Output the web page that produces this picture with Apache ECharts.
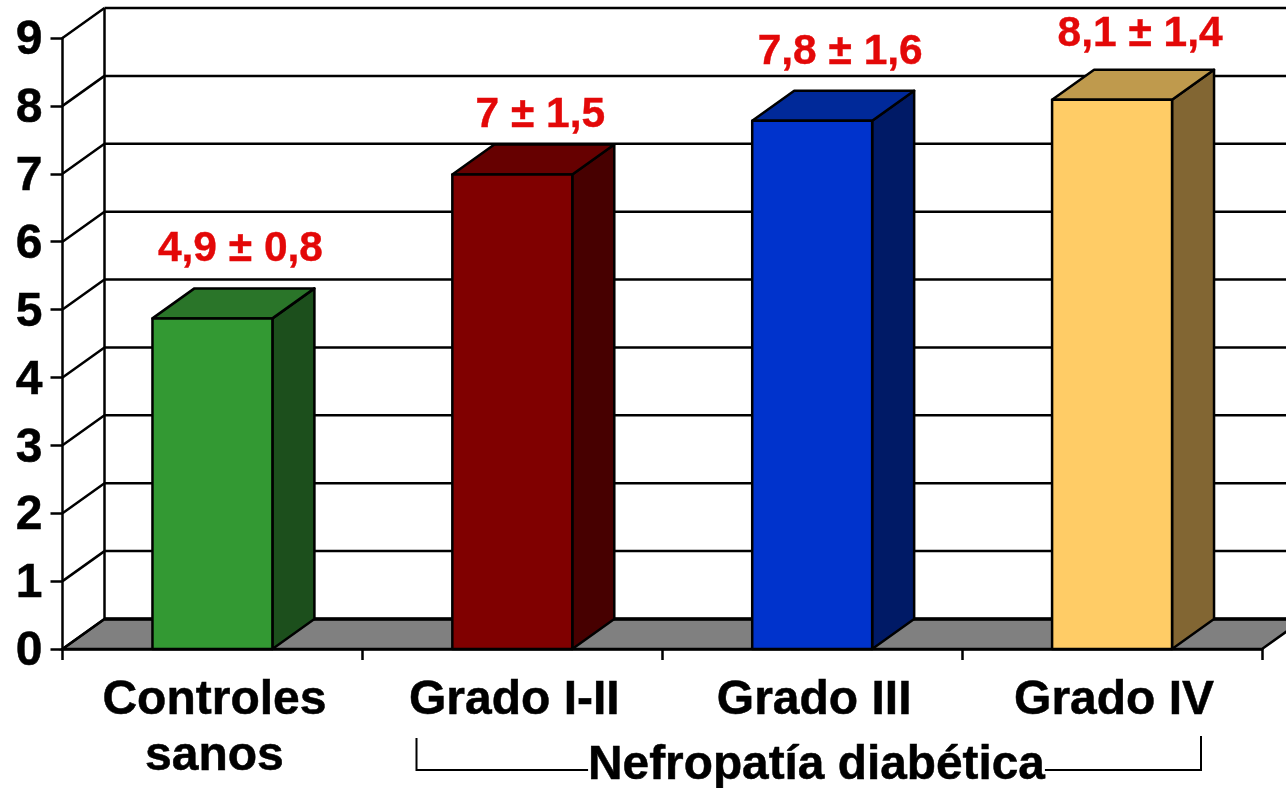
<!DOCTYPE html>
<html>
<head>
<meta charset="utf-8">
<title>Nefropatía diabética</title>
<style>
  html, body { margin: 0; padding: 0; background: #fff; }
  #chart { width: 1286px; height: 788px; }
</style>
<script src="https://cdn.jsdelivr.net/npm/echarts@6/dist/echarts.min.js"></script>
</head>
<body>
<div id="chart"></div>
<script>
const categories = ["Controles\nsanos", "Grado I-II", "Grado III", "Grado IV"];
const values = [4.87, 6.99, 7.78, 8.09];
const barLabels = ["4,9 ± 0,8", "7 ± 1,5", "7,8 ± 1,6", "8,1 ± 1,4"];
const yTicks = [0, 1, 2, 3, 4, 5, 6, 7, 8, 9];
const groupLabel = "Nefropatía diabética";

// colores de cada barra: frente, tapa, lateral
const faceColors = ["#339933", "#800000", "#0033CC", "#FFCC66"];
const topColors = ["#2A7529", "#660000", "#002999", "#BF9A4D"];
const sideColors = ["#1C4F1C", "#470000", "#001A66", "#826633"];

const depthX = 42;
const depthY = 30;
const labelLift = [39, 29, 39, 35]; // separacion de cada rotulo sobre su barra
const fontFamily = "'Liberation Sans', Arial, sans-serif";
const lineW = 2.5;
const lineStyle = { stroke: "#000", lineWidth: lineW, fill: null };

function renderWall(params, api) {
  const rect = params.coordSys;
  const v = api.value(1);
  const y = api.coord([0, v])[1];
  const left = rect.x;
  const right = rect.x + rect.width;
  const children = [];
  if (v === 0) {
    children.push({
      type: "polygon",
      shape: { points: [[left, y], [left + depthX, y - depthY], [right + depthX, y - depthY], [right, y]] },
      style: { fill: "#808080", stroke: "#000", lineWidth: lineW }
    });
  }
  children.push({
    type: "line",
    shape: { x1: left + depthX, y1: y - depthY, x2: right + depthX, y2: y - depthY },
    style: { stroke: "#000", lineWidth: v === 0 ? 3.5 : lineW }
  });
  children.push({
    type: "line",
    shape: { x1: left, y1: y, x2: left + depthX, y2: y - depthY },
    style: lineStyle
  });
  if (v === yTicks[yTicks.length - 1]) {
    children.push({
      type: "line",
      shape: { x1: left + depthX, y1: y - depthY, x2: left + depthX, y2: rect.y + rect.height - depthY },
      style: lineStyle
    });
  }
  return { type: "group", children: children };
}

function renderBar(params, api) {
  const i = api.value(0);
  const top = api.coord([i, api.value(1)]);
  const base = api.coord([i, 0]);
  const w = api.size([1, 0])[0] * 0.4;
  const x0 = top[0] - w / 2;
  const x1 = top[0] + w / 2;
  const edge = { stroke: "#000", lineWidth: lineW, lineJoin: "round" };
  return {
    type: "group",
    children: [
      {
        type: "polygon",
        shape: { points: [[x1, top[1]], [x1 + depthX, top[1] - depthY], [x1 + depthX, base[1] - depthY], [x1, base[1]]] },
        style: Object.assign({ fill: sideColors[i] }, edge)
      },
      {
        type: "polygon",
        shape: { points: [[x0, top[1]], [x0 + depthX, top[1] - depthY], [x1 + depthX, top[1] - depthY], [x1, top[1]]] },
        style: Object.assign({ fill: topColors[i] }, edge)
      },
      {
        type: "rect",
        shape: { x: x0, y: top[1], width: w, height: base[1] - top[1] },
        style: Object.assign({ fill: faceColors[i] }, edge)
      },
      {
        type: "text",
        style: {
          x: top[0] + 28,
          y: top[1] - depthY - labelLift[i],
          text: barLabels[i],
          fill: "#E30808",
          stroke: "#E30808",
          lineWidth: 0.4,
          font: "bold 42.5px " + fontFamily,
          align: "center",
          verticalAlign: "middle"
        }
      }
    ]
  };
}

const chart = echarts.init(document.getElementById("chart"));
chart.setOption({
  animation: false,
  backgroundColor: "#fff",
  grid: { left: 62.5, right: 24, top: 38, bottom: 139 },
  xAxis: {
    type: "category",
    data: categories,
    z: 5,
    axisLine: { lineStyle: { color: "#000", width: lineW } },
    axisTick: { show: true, length: 11, alignWithLabel: false, lineStyle: { color: "#000", width: lineW } },
    axisLabel: {
      interval: 0,
      margin: 24,
      padding: [0, 0, 0, 4],
      color: "#000",
      textBorderColor: "#000",
      textBorderWidth: 0.5,
      fontFamily: fontFamily,
      fontWeight: "bold",
      fontSize: 48,
      lineHeight: 56
    }
  },
  yAxis: {
    type: "value",
    min: 0,
    max: 9,
    interval: 1,
    z: 5,
    splitLine: { show: false },
    axisLine: { show: true, lineStyle: { color: "#000", width: lineW } },
    axisTick: { show: true, length: 12, lineStyle: { color: "#000", width: lineW } },
    axisLabel: {
      margin: 20,
      formatter: "{v|{value}}",
      rich: {
        v: {
          padding: [6, 0, 0, 0],
          color: "#000",
          textBorderColor: "#000",
          textBorderWidth: 0.5,
          fontFamily: fontFamily,
          fontWeight: "bold",
          fontSize: 48
        }
      }
    }
  },
  graphic: [
    {
      type: "polyline",
      z: 10,
      shape: { points: [[416.5, 738], [416.5, 770], [1201, 770], [1201, 736]] },
      style: { stroke: "#000", lineWidth: 2, fill: null }
    },
    {
      type: "text",
      z: 11,
      x: 816.5,
      y: 766,
      style: {
        text: groupLabel,
        fill: "#000",
        stroke: "#000",
        lineWidth: 0.5,
        font: "bold 47.8px " + fontFamily,
        align: "center",
        verticalAlign: "middle",
        backgroundColor: "#fff"
      }
    }
  ],
  series: [
    {
      type: "custom",
      clip: false,
      silent: true,
      z: 1,
      renderItem: renderWall,
      encode: { x: 0, y: 1 },
      data: yTicks.map(function (v) { return [0, v]; })
    },
    {
      type: "custom",
      clip: false,
      silent: true,
      z: 2,
      renderItem: renderBar,
      encode: { x: 0, y: 1 },
      data: values.map(function (v, i) { return [i, v]; })
    }
  ]
});
</script>
</body>
</html>
